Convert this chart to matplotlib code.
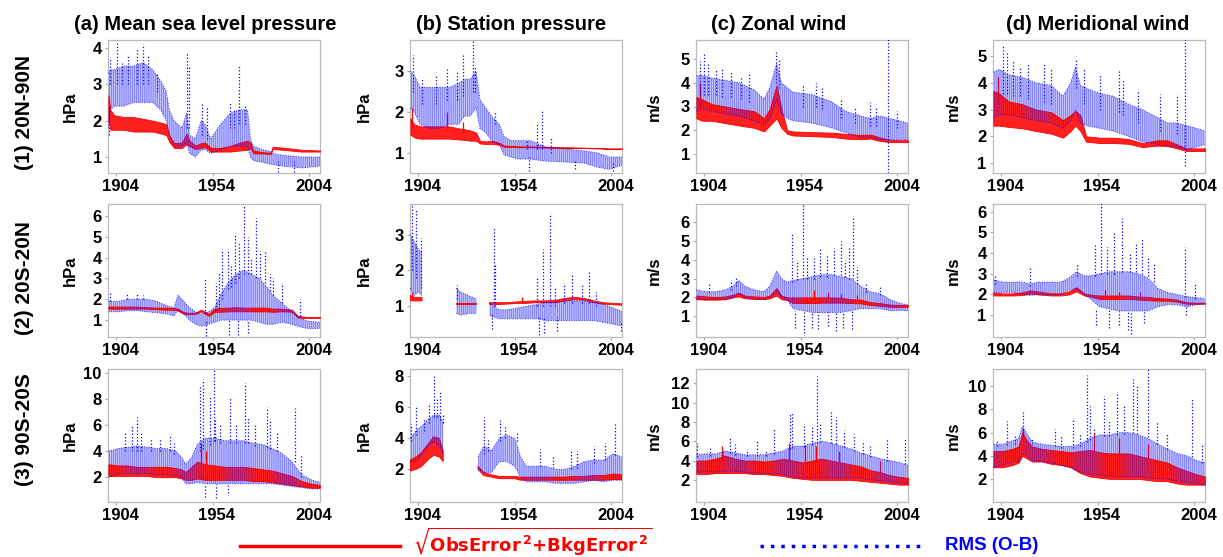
import numpy as np
import matplotlib
matplotlib.use("Agg")
import matplotlib.pyplot as plt
from matplotlib import transforms
from matplotlib.lines import Line2D

plt.rcParams['font.family'] = ['Liberation Sans', 'DejaVu Sans']
plt.rcParams['font.weight'] = 'bold'
plt.rcParams['hatch.linewidth'] = 0.45
plt.rcParams['hatch.color'] = 'blue'

nan = float('nan')

titles = ['(a) Mean sea level pressure', '(b) Station pressure', '(c) Zonal wind', '(d) Meridional wind']
regions = ['(1) 20N-90N', '(2) 20S-20N', '(3) 90S-20S']
units = ['hPa', 'hPa', 'm/s', 'm/s']
xticks = [1904, 1954, 2004]

# ---------------- row 1 : 20N-90N ----------------
a1_yr = [1900, 1901, 1903, 1908, 1913, 1918, 1923, 1927, 1930, 1931.5,
         1934, 1938, 1940.5, 1942, 1945, 1948, 1950, 1953, 1958, 1963,
         1968, 1972, 1973.5, 1975, 1980, 1984, 1985, 1990, 2000, 2009.5]
a1_blo = [1.8, 2.3, 2.4, 2.4, 2.5, 2.5, 2.5, 2.3, 2.0, 1.6,
          1.3, 1.3, 1.4, 1.1, 1.0, 1.2, 1.2, 1.1, 1.2, 1.3,
          1.3, 1.3, 1.0, 0.9, 0.85, 0.8, 0.8, 0.75, 0.7, 0.75]
a1_bhi = [3.3, 3.4, 3.4, 3.5, 3.5, 3.6, 3.4, 3.1, 2.8, 2.3,
          2.0, 1.8, 2.2, 1.6, 1.5, 2.0, 1.9, 1.5, 1.9, 2.2,
          2.3, 2.3, 1.5, 1.3, 1.2, 1.15, 1.1, 1.05, 1.0, 1.0]
a1_rlo = [2.0, 1.75, 1.75, 1.75, 1.7, 1.7, 1.7, 1.65, 1.6, 1.42,
          1.25, 1.25, 1.35, 1.3, 1.22, 1.25, 1.28, 1.15, 1.15, 1.15,
          1.18, 1.2, 1.25, 1.1, 1.1, 1.08, 1.22, 1.2, 1.15, 1.15]
a1_rhi = [2.7, 2.3, 2.15, 2.1, 2.1, 2.05, 2.0, 1.95, 1.9, 1.6,
          1.38, 1.4, 1.65, 1.45, 1.32, 1.38, 1.4, 1.25, 1.25, 1.3,
          1.4, 1.45, 1.4, 1.18, 1.13, 1.12, 1.28, 1.26, 1.2, 1.18]
a1_sx = [1900.3, 1901, 1904.3, 1907, 1910, 1914.7, 1918.1, 1920.7, 1925, 1940.8,
         1941.5, 1948.3, 1951, 1962.9, 1965, 1967.6, 1970.7, 1988, 1996]
a1_slo = [1.6, 3.0, 3.0, 3.0, 3.0, 3.0, 3.0, 3.0, 2.8, 1.8,
          1.8, 1.6, 1.5, 1.8, 1.8, 1.9, 1.9, 0.6, 0.6]
a1_shi = [2.4, 3.7, 4.2, 3.6, 3.8, 4.0, 4.1, 3.8, 3.3, 3.9,
          3.5, 2.5, 2.4, 2.5, 2.3, 3.5, 2.4, 0.9, 0.9]
a1_tx, a1_tlo, a1_thi = [], [], []

b1_yr = [1900, 1902, 1905, 1910, 1915, 1920, 1925, 1928, 1931, 1934,
         1936, 1939, 1942, 1946, 1948.5, 1952, 1956, 1962, 1970, 1980,
         1990, 1997, 2003, 2009.5]
b1_blo = [2.1, 2.0, 1.7, 1.6, 1.6, 1.7, 1.7, 1.9, 1.9, 2.1,
          1.6, 1.5, 1.3, 1.2, 0.95, 0.9, 0.85, 0.85, 0.8, 0.78,
          0.75, 0.65, 0.6, 0.7]
b1_bhi = [3.0, 2.9, 2.6, 2.6, 2.6, 2.6, 2.7, 2.8, 2.8, 3.0,
          2.3, 2.1, 1.9, 1.7, 1.4, 1.3, 1.3, 1.3, 1.15, 1.1,
          1.05, 1.0, 0.9, 0.9]
b1_rlo = [1.45, 1.38, 1.35, 1.35, 1.35, 1.35, 1.33, 1.32, 1.3, 1.3,
          1.23, 1.22, 1.22, 1.2, 1.15, 1.15, 1.14, 1.14, 1.13, 1.12,
          1.12, 1.11, 1.1, 1.1]
b1_rhi = [1.85, 1.7, 1.65, 1.65, 1.65, 1.65, 1.6, 1.58, 1.55, 1.5,
          1.3, 1.28, 1.3, 1.25, 1.18, 1.17, 1.16, 1.16, 1.15, 1.14,
          1.13, 1.12, 1.11, 1.11]
b1_sx = [1901.4, 1906, 1913, 1919, 1924, 1927, 1932.5, 1933.3, 1944, 1960.4, 1961.5, 1965.6, 1968.2, 1973, 1985, 2005]
b1_slo = [2.5, 2.2, 2.2, 2.3, 2.3, 2.4, 2.5, 2.5, 1.7, 1.1, 0.55, 1.1, 1.1, 1.0, 0.6, 0.55]
b1_shi = [3.4, 2.8, 2.9, 3.1, 3.0, 3.4, 3.8, 3.1, 2.0, 1.35, 0.9, 1.7, 2.05, 1.4, 0.85, 0.8]
b1_tx, b1_tlo, b1_thi = [1901, 1919, 1927], [1.6, 1.55, 1.5], [2.1, 2.0, 1.75]

c1_yr = [1900, 1903, 1908, 1915, 1922, 1930, 1935, 1938, 1941.5, 1944,
         1947, 1950, 1960, 1970, 1977, 1985, 1990, 1995, 2000, 2005,
         2009.5]
c1_blo = [2.8, 2.9, 2.8, 2.7, 2.6, 2.4, 2.2, 2.5, 3.3, 2.7,
          2.5, 2.4, 2.3, 2.1, 1.9, 1.7, 1.7, 1.6, 1.6, 1.6,
          1.6]
c1_bhi = [4.3, 4.3, 4.2, 4.1, 4.0, 3.7, 3.3, 3.8, 4.8, 4.0,
          3.8, 3.6, 3.5, 3.2, 2.8, 2.6, 2.5, 2.6, 2.5, 2.4,
          2.3]
c1_rlo = [2.5, 2.4, 2.4, 2.3, 2.2, 2.1, 1.95, 2.2, 2.5, 2.1,
          1.85, 1.78, 1.75, 1.72, 1.65, 1.62, 1.65, 1.55, 1.5, 1.5,
          1.5]
c1_rhi = [3.4, 3.3, 3.1, 3.0, 2.9, 2.8, 2.5, 2.9, 3.9, 2.9,
          2.0, 1.95, 1.92, 1.9, 1.85, 1.8, 1.82, 1.7, 1.6, 1.58,
          1.58]
c1_sx = [1902, 1903.8, 1906, 1910, 1913, 1918, 1923, 1927, 1941.2, 1942.5, 1955, 1962, 1965, 1975, 1982, 1990, 1993, 1999.3, 2004]
c1_slo = [3.5, 3.5, 3.5, 3.5, 3.4, 3.4, 3.3, 3.2, 4.0, 3.8, 3.0, 3.0, 2.9, 2.5, 2.3, 2.2, 2.2, 0.2, 2.1]
c1_shi = [4.9, 5.2, 4.8, 4.6, 4.6, 4.5, 4.3, 4.4, 5.3, 5.0, 3.9, 4.0, 3.8, 3.3, 3.0, 3.2, 3.0, 7.0, 2.8]
c1_tx, c1_tlo, c1_thi = [1902], [3.0], [4.0]

d1_yr = [1900, 1903, 1908, 1915, 1922, 1930, 1936, 1940, 1942.5, 1945,
         1948, 1955, 1962, 1970, 1977, 1985, 1990, 1995, 2000, 2005,
         2009.5]
d1_blo = [2.7, 2.8, 2.8, 2.7, 2.6, 2.5, 2.3, 2.6, 3.0, 2.5,
          2.4, 2.3, 2.2, 2.0, 1.8, 1.7, 1.6, 1.6, 1.5, 1.6,
          1.7]
d1_bhi = [4.4, 4.5, 4.3, 4.2, 4.0, 3.9, 3.5, 4.0, 4.6, 3.9,
          3.8, 3.6, 3.5, 3.2, 3.0, 2.7, 2.5, 2.5, 2.4, 2.3,
          2.2]
d1_rlo = [2.4, 2.4, 2.35, 2.3, 2.2, 2.1, 1.95, 2.2, 2.4, 2.2,
          1.8, 1.75, 1.75, 1.72, 1.6, 1.65, 1.65, 1.55, 1.45, 1.45,
          1.45]
d1_rhi = [3.7, 3.6, 3.3, 3.2, 3.0, 2.9, 2.6, 2.8, 2.95, 2.8,
          2.0, 1.95, 1.95, 1.9, 1.75, 1.85, 1.85, 1.7, 1.55, 1.55,
          1.55]
d1_sx = [1904.8, 1906.9, 1910, 1914, 1918, 1926, 1930, 1942.7, 1947, 1955, 1964.8, 1967, 1975, 1986, 1995, 1999.3]
d1_slo = [3.6, 3.6, 3.5, 3.5, 3.4, 3.3, 3.2, 3.8, 3.2, 3.0, 2.9, 2.8, 2.5, 2.2, 2.1, 0.9]
d1_shi = [5.4, 5.2, 4.8, 4.6, 4.7, 4.7, 4.5, 4.9, 4.5, 4.3, 4.5, 4.1, 3.7, 3.6, 3.6, 5.8]
d1_tx, d1_tlo, d1_thi = [1902.6], [3.2], [4.2]

# ---------------- row 2 : 20S-20N ----------------
a2_yr = [1900, 1905, 1910, 1915, 1920, 1925, 1930, 1934, 1936, 1939,
         1942, 1945, 1948, 1952, 1955, 1958, 1962, 1966, 1970, 1974,
         1978, 1982, 1985, 1990, 1995, 1998, 2003, 2009.5]
a2_blo = [1.4, 1.4, 1.45, 1.45, 1.4, 1.35, 1.3, 1.2, 1.5, 1.3,
          1.0, 0.8, 0.7, 0.8, 0.9, 1.0, 1.0, 1.0, 1.0, 1.0,
          0.9, 0.8, 0.8, 0.9, 0.8, 0.7, 0.6, 0.6]
a2_bhi = [1.9, 1.9, 2.0, 2.0, 2.0, 1.9, 1.7, 1.6, 2.2, 1.9,
          1.6, 1.4, 1.3, 1.4, 1.6, 2.2, 2.8, 3.2, 3.4, 3.2,
          3.0, 2.6, 2.2, 1.8, 1.4, 1.2, 0.95, 0.9]
a2_rlo = [1.55, 1.55, 1.55, 1.55, 1.55, 1.52, 1.5, 1.5, 1.45, 1.3,
          1.28, 1.3, 1.42, 1.2, 1.4, 1.4, 1.42, 1.42, 1.42, 1.42,
          1.42, 1.42, 1.4, 1.42, 1.4, 1.12, 1.1, 1.1]
a2_rhi = [1.65, 1.65, 1.65, 1.65, 1.62, 1.6, 1.6, 1.58, 1.55, 1.38,
          1.35, 1.36, 1.5, 1.3, 1.55, 1.58, 1.6, 1.62, 1.6, 1.6,
          1.6, 1.6, 1.55, 1.55, 1.5, 1.2, 1.15, 1.15]
a2_sx = [1900.8, 1909.5, 1914.7, 1918, 1950, 1950.3, 1955.5, 1957, 1958.6, 1962,
         1962.5, 1963.5, 1965.5, 1967, 1967.8, 1970.3, 1972, 1972.4, 1974, 1976.4,
         1978.4, 1981, 1983.6, 1985.3, 1989.7, 1999]
a2_slo = [1.9, 2.0, 2.0, 2.0, 1.3, 0.25, 1.5, 1.6, 2.0, 2.5,
          0.3, 2.6, 2.8, 0.3, 3.0, 3.2, 0.4, 3.2, 3.2, 3.0,
          3.0, 2.8, 2.4, 2.2, 1.8, 1.2]
a2_shi = [2.4, 2.3, 2.3, 2.2, 3.0, 1.0, 2.8, 3.3, 4.4, 4.4,
          1.0, 3.6, 5.2, 1.0, 4.7, 6.5, 1.0, 5.0, 4.0, 5.9,
          4.3, 4.3, 3.2, 3.0, 2.8, 2.0]
a2_tx, a2_tlo, a2_thi = [], [], []

b2_yr = [1900, 1902, 1904, 1906, 1915, 1923.8, 1926, 1930, 1934.2, 1938,
         1941, 1943, 1946, 1950, 1955, 1960, 1965, 1970, 1975, 1980,
         1985, 1990, 1995, 2000, 2005, 2009.5]
b2_blo = [1.5, 1.3, 1.4, 1.3, nan, 0.8, 0.75, 0.8, 0.8, nan,
          0.75, 0.7, 0.65, 0.65, 0.65, 0.65, 0.65, 0.6, 0.6, 0.6,
          0.6, 0.6, 0.6, 0.55, 0.5, 0.45]
b2_bhi = [3.0, 2.8, 2.6, 2.5, nan, 1.5, 1.4, 1.3, 1.2, nan,
          1.1, 1.0, 0.9, 0.9, 0.95, 1.0, 1.05, 1.1, 1.1, 1.15,
          1.15, 1.15, 1.1, 1.05, 0.95, 0.85]
b2_rlo = [1.15, 1.15, 1.15, 1.15, nan, 1.05, 1.05, 1.05, 1.05, nan,
          1.05, 1.05, 1.05, 1.06, 1.08, 1.08, 1.1, 1.1, 1.1, 1.15,
          1.18, 1.17, 1.1, 1.06, 1.04, 1.03]
b2_rhi = [1.3, 1.25, 1.25, 1.25, nan, 1.1, 1.1, 1.1, 1.1, nan,
          1.1, 1.1, 1.1, 1.1, 1.12, 1.14, 1.15, 1.15, 1.16, 1.22,
          1.25, 1.22, 1.15, 1.1, 1.08, 1.07]
b2_sx = [1900.9, 1903, 1905.5, 1924, 1942, 1943.2, 1943.8, 1965.6, 1966.5, 1968.6,
         1969, 1972.5, 1975, 1976, 1979.4, 1983.8, 1989, 1992.4, 1996, 2009]
b2_slo = [2.0, 1.8, 1.5, 1.2, 0.35, 1.0, 1.0, 1.0, 0.2, 1.0,
          0.25, 1.0, 1.0, 0.3, 1.1, 1.1, 1.1, 1.1, 1.0, 0.3]
b2_shi = [3.9, 3.7, 2.9, 1.6, 0.8, 3.2, 2.2, 1.8, 0.7, 2.6,
          0.7, 3.6, 1.5, 0.7, 1.6, 1.9, 1.6, 2.0, 1.4, 0.6]
b2_tx, b2_tlo, b2_thi = [1901, 1957.9], [1.25, 1.1], [1.4, 1.25]

c2_yr = [1900, 1905, 1910, 1915, 1919, 1922, 1925, 1930, 1935, 1938,
         1941.5, 1944, 1947, 1950, 1955, 1960, 1965, 1970, 1975, 1980,
         1985, 1990, 1995, 2000, 2005, 2009.5]
c2_blo = [1.9, 1.9, 1.9, 1.9, 2.0, 2.2, 2.0, 1.9, 1.9, 2.0,
          2.3, 2.0, 1.9, 1.4, 1.3, 1.2, 1.2, 1.2, 1.2, 1.3,
          1.4, 1.4, 1.4, 1.3, 1.3, 1.3]
c2_bhi = [2.4, 2.3, 2.3, 2.4, 2.6, 2.9, 2.6, 2.4, 2.3, 2.6,
          3.4, 3.0, 2.8, 2.9, 3.0, 3.1, 3.2, 3.2, 3.1, 3.0,
          2.6, 2.3, 2.2, 1.9, 1.7, 1.6]
c2_rlo = [1.9, 1.88, 1.88, 1.9, 2.0, 2.05, 1.95, 1.92, 1.9, 1.95,
          2.1, 1.9, 1.85, 1.7, 1.7, 1.7, 1.72, 1.72, 1.72, 1.7,
          1.68, 1.6, 1.55, 1.5, 1.5, 1.5]
c2_rhi = [2.1, 2.05, 2.02, 2.05, 2.15, 2.25, 2.1, 2.05, 2.02, 2.1,
          2.5, 2.1, 2.0, 2.0, 2.0, 2.0, 2.0, 2.0, 1.98, 1.9,
          1.88, 1.75, 1.7, 1.62, 1.6, 1.6]
c2_sx = [1906.4, 1918, 1920.5, 1949.6, 1951, 1952.2, 1955.3, 1955.8, 1957.3, 1960,
         1960.8, 1963, 1964.2, 1967.7, 1968, 1971.2, 1972, 1974.6, 1976, 1977,
         1978.9, 1980.5, 1981, 1983, 1988, 1995]
c2_slo = [2.3, 2.4, 2.6, 2.8, 0.4, 2.9, 3.0, 0.1, 3.0, 0.4,
          3.0, 0.3, 3.1, 3.1, 0.5, 3.2, 0.2, 3.2, 0.4, 3.1,
          3.0, 0.3, 3.0, 2.7, 2.3, 2.1]
c2_shi = [2.8, 2.9, 3.1, 5.4, 1.3, 4.0, 7.5, 1.2, 4.2, 1.2,
          4.1, 1.2, 4.6, 4.3, 1.2, 4.6, 1.2, 5.0, 1.2, 4.0,
          4.7, 1.3, 6.2, 3.6, 2.7, 2.6]
c2_tx, c2_tlo, c2_thi = [1961, 1968, 1975, 1983], [1.95, 1.95, 1.95, 1.9], [2.4, 2.3, 2.2, 2.1]

d2_yr = [1900, 1905, 1910, 1915, 1919, 1923, 1930, 1935, 1939, 1943,
         1947, 1950, 1955, 1960, 1965, 1970, 1975, 1980, 1985, 1990,
         1995, 2000, 2005, 2009.5]
d2_blo = [2.1, 2.1, 2.1, 2.0, 1.95, 2.0, 2.0, 2.0, 2.2, 2.3,
          2.0, 1.8, 1.4, 1.3, 1.2, 1.2, 1.2, 1.2, 1.4, 1.5,
          1.5, 1.4, 1.5, 1.55]
d2_bhi = [2.7, 2.6, 2.6, 2.6, 2.5, 2.6, 2.6, 2.6, 2.8, 3.1,
          2.9, 2.9, 3.0, 3.1, 3.1, 3.1, 3.0, 2.8, 2.3, 2.1,
          2.0, 1.9, 1.85, 1.8]
d2_rlo = [1.95, 1.95, 1.95, 1.97, 2.05, 2.0, 1.95, 1.95, 2.0, 2.15,
          1.95, 1.9, 1.78, 1.78, 1.78, 1.78, 1.75, 1.72, 1.7, 1.7,
          1.65, 1.55, 1.55, 1.55]
d2_rhi = [2.1, 2.05, 2.05, 2.1, 2.2, 2.15, 2.05, 2.05, 2.15, 2.35,
          2.05, 2.0, 1.95, 1.95, 1.95, 1.95, 1.9, 1.88, 1.82, 1.8,
          1.75, 1.62, 1.6, 1.6]
d2_sx = [1901, 1919, 1943.2, 1952.7, 1953, 1955.8, 1958.7, 1960, 1962.2, 1965,
         1966.8, 1969.5, 1970.8, 1971, 1973.7, 1976.9, 1978, 1979.8, 1982.9, 1999,
         1999.5, 2004.5]
d2_slo = [2.5, 2.4, 2.9, 2.9, 0.5, 3.0, 3.0, 0.4, 3.0, 0.5,
          3.1, 0.3, 3.1, 0.1, 3.1, 3.0, 0.6, 2.9, 2.6, 1.9,
          1.0, 1.8]
d2_shi = [2.9, 3.4, 3.5, 4.5, 1.3, 6.5, 4.3, 1.3, 5.0, 1.2,
          5.7, 1.2, 4.0, 1.2, 4.5, 4.7, 1.2, 3.8, 3.5, 4.3,
          1.5, 2.5]
d2_tx, d2_tlo, d2_thi = [1958, 1965, 1976], [1.95, 1.95, 1.9], [2.2, 2.1, 2.1]

# ---------------- row 3 : 90S-20S ----------------
a3_yr = [1900, 1905, 1910, 1915, 1920, 1925, 1930, 1935, 1938, 1940,
         1943, 1946, 1950, 1955, 1960, 1965, 1970, 1975, 1980, 1985,
         1990, 1995, 2000, 2005, 2009.5]
a3_blo = [2.0, 2.2, 2.3, 2.3, 2.3, 2.2, 2.2, 2.1, 2.0, 1.5,
          1.5, 1.6, 1.5, 1.5, 1.5, 1.5, 1.5, 1.5, 1.5, 1.5,
          1.4, 1.3, 1.2, 1.1, 1.1]
a3_bhi = [4.0, 4.2, 4.3, 4.4, 4.3, 4.2, 4.2, 4.0, 3.5, 3.0,
          3.5, 4.5, 5.0, 5.0, 4.8, 4.8, 4.8, 4.6, 4.5, 4.2,
          3.8, 3.2, 2.2, 1.8, 1.6]
a3_rlo = [2.1, 2.1, 2.1, 2.1, 2.1, 2.0, 2.0, 2.0, 1.9, 1.8,
          1.8, 1.9, 1.8, 1.8, 1.8, 1.8, 1.8, 1.7, 1.7, 1.6,
          1.5, 1.4, 1.3, 1.2, 1.2]
a3_rhi = [3.0, 2.9, 2.9, 2.8, 2.8, 2.8, 2.8, 2.7, 2.6, 2.4,
          2.8, 3.2, 3.0, 2.9, 2.8, 2.8, 2.8, 2.7, 2.6, 2.5,
          2.3, 2.1, 1.7, 1.5, 1.4]
a3_sx = [1908.6, 1912, 1915, 1917, 1922, 1926.7, 1931.9, 1934, 1947.4, 1949.1,
         1950, 1952.6, 1954.8, 1955.2, 1955.5, 1958, 1962, 1963, 1966, 1970.7,
         1972.4, 1976, 1981.9, 1983.6, 1987, 1996.6, 1999.8]
a3_slo = [4.0, 4.0, 4.0, 4.0, 4.0, 4.0, 4.0, 3.8, 4.0, 4.2,
          0.5, 4.5, 4.8, 4.8, 0.4, 4.6, 0.8, 4.6, 4.6, 4.6,
          4.6, 4.4, 4.3, 4.2, 4.0, 3.2, 2.0]
a3_shi = [5.4, 5.9, 6.6, 5.5, 4.9, 5.0, 5.2, 4.6, 9.1, 9.5,
          1.5, 8.2, 10.3, 6.4, 1.5, 6.0, 1.5, 8.1, 6.0, 9.2,
          6.6, 6.0, 7.4, 6.5, 5.5, 7.3, 3.8]
a3_tx, a3_tlo, a3_thi = [1948, 1950.5], [3.0, 3.0], [4.6, 4.0]

b3_yr = [1900, 1903, 1906, 1909, 1912, 1915, 1917, 1926, 1935, 1938,
         1942, 1946, 1950, 1954, 1957, 1960, 1965, 1970, 1975, 1980,
         1985, 1990, 1995, 2000, 2005, 2009.5]
b3_blo = [2.5, 2.5, 3.0, 3.5, 3.8, 3.5, 3.0, nan, 2.0, 1.8,
          1.8, 2.5, 2.5, 2.2, 1.5, 1.2, 1.2, 1.2, 1.1, 1.1,
          1.1, 1.2, 1.3, 1.2, 1.3, 1.3]
b3_bhi = [4.0, 4.5, 4.8, 5.2, 5.5, 5.5, 5.0, nan, 2.8, 3.5,
          3.2, 4.0, 4.2, 4.0, 2.8, 2.2, 2.2, 2.2, 2.0, 2.0,
          2.2, 2.5, 2.6, 2.6, 3.0, 2.8]
b3_rlo = [1.9, 2.0, 2.2, 2.6, 2.9, 2.8, 2.5, nan, 2.0, 1.6,
          1.5, 1.4, 1.4, 1.4, 1.3, 1.3, 1.3, 1.3, 1.3, 1.3,
          1.3, 1.3, 1.3, 1.3, 1.35, 1.35]
b3_rhi = [2.6, 2.8, 3.1, 3.6, 4.1, 4.0, 3.2, nan, 2.2, 1.8,
          1.65, 1.55, 1.55, 1.55, 1.5, 1.5, 1.5, 1.5, 1.5, 1.5,
          1.55, 1.55, 1.6, 1.6, 1.7, 1.65]
b3_sx = [1900.5, 1903, 1906.8, 1909.5, 1912, 1914, 1915.5, 1916.8, 1938.3, 1940,
         1946.6, 1949, 1955, 1967, 1974, 1982.9, 1986.4, 1995, 2000.5, 2005.9]
b3_slo = [3.8, 4.2, 4.5, 5.0, 5.4, 5.4, 5.2, 5.0, 3.0, 3.2,
          3.8, 4.0, 3.8, 2.2, 2.1, 2.0, 2.1, 2.4, 2.6, 2.9]
b3_shi = [4.9, 6.1, 5.3, 6.3, 8.0, 6.5, 7.0, 5.5, 5.4, 4.0,
          5.2, 4.8, 4.5, 3.3, 2.9, 3.3, 3.2, 3.5, 3.7, 5.0]
b3_tx, b3_tlo, b3_thi = [], [], []

c3_yr = [1900, 1905, 1910, 1915, 1920, 1925, 1930, 1935, 1940, 1945,
         1950, 1955, 1960, 1965, 1970, 1975, 1980, 1985, 1990, 1995,
         2000, 2005, 2009.5]
c3_blo = [2.8, 2.8, 2.8, 2.9, 2.9, 2.8, 2.7, 2.7, 2.6, 2.6,
          2.3, 2.2, 2.2, 2.2, 2.2, 2.2, 2.2, 2.2, 2.0, 1.9,
          1.8, 1.7, 1.6]
c3_bhi = [4.6, 4.7, 4.7, 5.0, 4.8, 4.6, 4.6, 4.6, 4.8, 5.0,
          5.5, 5.5, 5.8, 6.0, 5.8, 5.5, 5.2, 4.8, 4.5, 4.2,
          4.0, 3.8, 3.5]
c3_rlo = [2.6, 2.6, 2.7, 2.7, 2.7, 2.7, 2.6, 2.6, 2.5, 2.4,
          2.2, 2.1, 2.0, 2.0, 2.0, 2.0, 2.0, 1.9, 1.8, 1.7,
          1.6, 1.5, 1.5]
c3_rhi = [4.0, 4.0, 4.2, 4.5, 4.2, 4.0, 4.0, 3.9, 4.0, 4.2,
          4.0, 3.8, 4.0, 4.2, 4.0, 3.8, 3.6, 3.4, 3.0, 2.8,
          2.5, 2.3, 2.2]
c3_sx = [1900.3, 1907.3, 1914, 1917.6, 1920.2, 1926, 1931.5, 1936, 1940.2, 1948.4,
         1949.6, 1955.6, 1959.9, 1962.2, 1964, 1969.8, 1972, 1976.3, 1981.5, 1986,
         1990, 1998.8, 2007.8]
c3_slo = [4.4, 4.5, 4.5, 4.8, 4.6, 4.5, 4.5, 4.5, 4.7, 5.2,
          5.3, 5.4, 5.6, 5.8, 5.9, 5.8, 5.7, 5.4, 5.0, 4.7,
          4.4, 4.0, 3.6]
c3_shi = [5.8, 5.5, 5.0, 6.3, 5.7, 5.2, 6.0, 5.0, 7.4, 8.8,
          9.0, 7.6, 7.5, 12.8, 8.0, 9.2, 8.5, 7.2, 6.8, 6.0,
          5.5, 6.2, 6.3]
c3_tx = [1913, 1948, 1956, 1962, 1974, 1995]
c3_tlo = [4.0, 3.9, 3.7, 3.9, 3.9, 2.7]
c3_thi = [5.5, 5.8, 5.6, 5.5, 5.0, 4.0]

d3_yr = [1900, 1905, 1910, 1913, 1915, 1917, 1920, 1925, 1930, 1935,
         1940, 1945, 1950, 1955, 1960, 1965, 1970, 1975, 1980, 1985,
         1990, 1995, 2000, 2005, 2009.5]
d3_blo = [3.0, 3.2, 3.5, 3.5, 4.2, 4.0, 3.6, 3.5, 3.4, 3.2,
          3.0, 2.6, 2.4, 2.3, 2.2, 2.2, 2.2, 2.2, 2.1, 2.0,
          2.0, 1.8, 1.7, 1.6, 1.5]
d3_bhi = [5.0, 5.0, 5.3, 5.5, 6.5, 6.0, 5.2, 5.0, 4.9, 4.8,
          4.8, 5.0, 5.5, 5.8, 5.8, 6.0, 6.0, 5.8, 5.5, 5.0,
          4.6, 4.2, 4.0, 3.6, 3.4]
d3_rlo = [3.0, 3.0, 3.2, 3.4, 4.0, 3.8, 3.5, 3.5, 3.3, 3.2,
          3.0, 2.5, 2.2, 2.1, 2.0, 2.0, 2.0, 2.0, 1.9, 1.8,
          1.8, 1.6, 1.5, 1.5, 1.5]
d3_rhi = [4.4, 4.4, 4.6, 4.8, 6.0, 5.4, 4.8, 4.6, 4.5, 4.4,
          4.3, 4.4, 4.5, 4.3, 4.2, 4.2, 4.2, 4.0, 3.8, 3.6,
          3.4, 3.0, 2.7, 2.4, 2.2]
d3_sx = [1902, 1906.9, 1911, 1915.2, 1920, 1932, 1935, 1941, 1945, 1948.4,
         1950, 1952, 1957, 1960, 1963.9, 1967.4, 1972.5, 1974.2, 1979.8, 1984.6,
         1990, 2002.8, 2008]
d3_slo = [4.8, 4.9, 5.0, 6.0, 5.0, 4.8, 4.7, 4.7, 4.8, 5.2,
          5.4, 5.6, 5.7, 5.7, 5.8, 5.9, 6.0, 5.9, 5.6, 5.0,
          4.6, 3.9, 3.4]
d3_shi = [5.3, 7.0, 5.8, 7.8, 5.5, 6.3, 5.7, 7.3, 6.0, 11.0,
          8.3, 6.5, 9.2, 7.0, 9.3, 8.5, 10.6, 10.0, 12.5, 6.9,
          6.0, 8.9, 5.0]
d3_tx, d3_tlo, d3_thi = [1915.2, 1952, 1965, 1980], [5.5, 4.4, 4.2, 3.8], [6.4, 6.0, 5.5, 5.0]

ylims = [[(0.56, 4.22), (0.51, 3.76), (0.2, 5.8), (0.63, 5.6)],
         [(0.19, 6.57), (0.14, 3.86), (-0.1, 6.95), (-0.06, 6.38)],
         [(0.1, 10.3), (-0.1, 8.46), (-0.3, 13.5), (0.0, 11.5)]]
yticks = [[[1, 2, 3, 4], [1, 2, 3], [1, 2, 3, 4, 5], [1, 2, 3, 4, 5]],
          [[1, 2, 3, 4, 5, 6], [1, 2, 3], [1, 2, 3, 4, 5, 6], [1, 2, 3, 4, 5, 6]],
          [[2, 4, 6, 8, 10], [2, 4, 6, 8], [2, 4, 6, 8, 10, 12], [2, 4, 6, 8, 10]]]

panels = [
    [(a1_yr, a1_blo, a1_bhi, a1_rlo, a1_rhi, a1_sx, a1_slo, a1_shi, a1_tx, a1_tlo, a1_thi),
     (b1_yr, b1_blo, b1_bhi, b1_rlo, b1_rhi, b1_sx, b1_slo, b1_shi, b1_tx, b1_tlo, b1_thi),
     (c1_yr, c1_blo, c1_bhi, c1_rlo, c1_rhi, c1_sx, c1_slo, c1_shi, c1_tx, c1_tlo, c1_thi),
     (d1_yr, d1_blo, d1_bhi, d1_rlo, d1_rhi, d1_sx, d1_slo, d1_shi, d1_tx, d1_tlo, d1_thi)],
    [(a2_yr, a2_blo, a2_bhi, a2_rlo, a2_rhi, a2_sx, a2_slo, a2_shi, a2_tx, a2_tlo, a2_thi),
     (b2_yr, b2_blo, b2_bhi, b2_rlo, b2_rhi, b2_sx, b2_slo, b2_shi, b2_tx, b2_tlo, b2_thi),
     (c2_yr, c2_blo, c2_bhi, c2_rlo, c2_rhi, c2_sx, c2_slo, c2_shi, c2_tx, c2_tlo, c2_thi),
     (d2_yr, d2_blo, d2_bhi, d2_rlo, d2_rhi, d2_sx, d2_slo, d2_shi, d2_tx, d2_tlo, d2_thi)],
    [(a3_yr, a3_blo, a3_bhi, a3_rlo, a3_rhi, a3_sx, a3_slo, a3_shi, a3_tx, a3_tlo, a3_thi),
     (b3_yr, b3_blo, b3_bhi, b3_rlo, b3_rhi, b3_sx, b3_slo, b3_shi, b3_tx, b3_tlo, b3_thi),
     (c3_yr, c3_blo, c3_bhi, c3_rlo, c3_rhi, c3_sx, c3_slo, c3_shi, c3_tx, c3_tlo, c3_thi),
     (d3_yr, d3_blo, d3_bhi, d3_rlo, d3_rhi, d3_sx, d3_slo, d3_shi, d3_tx, d3_tlo, d3_thi)],
]

W, H = 1223, 557
fig = plt.figure(figsize=(W / 100, H / 100), dpi=100)

col_left = [108, 410, 696, 993]
row_top = [40, 204, 369]
ax_w, ax_h = 212, 133
ylab_x = [-0.14, -0.18, -0.16, -0.15]
row_mid = [112, 278, 430]
title_x = [205, 511, 779, 1098]

blue = '#0000ff'
red = '#ff0000'


def draw(ax, yr, blo, bhi, rlo, rhi, sx, slo, shi, tx, tlo, thi):
    yr = np.array(yr, float)
    # light fill of the RMS band, then red band, then the dotted-looking blue texture over both
    ax.fill_between(yr, blo, bhi, facecolor='#c0c0ff', linewidth=0, zorder=2)
    ax.fill_between(yr, rlo, rhi, facecolor='#ff2020', edgecolor=red, linewidth=0.6, zorder=3)
    ax.fill_between(yr, blo, bhi, facecolor='none', edgecolor=blue, hatch='||||||||',
                    linewidth=0, alpha=0.5, zorder=3.5)
    ax.plot(yr, bhi, color=blue, ls=':', lw=0.7, alpha=0.8, zorder=3.6)
    ax.plot(yr, blo, color=blue, ls=':', lw=0.7, alpha=0.8, zorder=3.6)
    if tx:
        ax.vlines(tx, tlo, thi, colors=red, lw=0.9, zorder=3.4)
    ax.vlines(sx, slo, shi, colors=blue, linestyles=':', lw=0.9, zorder=4)


for r in range(3):
    for c in range(4):
        ax = fig.add_axes([col_left[c] / W, 1 - (row_top[r] + ax_h) / H, ax_w / W, ax_h / H])
        draw(ax, *panels[r][c])
        ax.set_xlim(1899.8, 2009.5)
        ax.set_ylim(*ylims[r][c])
        ax.set_xticks(xticks)
        ax.set_yticks(yticks[r][c])
        ax.tick_params(length=2.5, width=0.8, color='#aaaaaa', labelsize=12, pad=2)
        for s in ax.spines.values():
            s.set_color('#bbbbbb')
            s.set_linewidth(0.9)
        off = transforms.ScaledTranslation(4 / 100, 0, fig.dpi_scale_trans)
        for lab in ax.get_xticklabels():
            lab.set_transform(lab.get_transform() + off)
        ax.set_ylabel(units[c], fontsize=12, fontweight='bold')
        ax.yaxis.set_label_coords(ylab_x[c], 0.5)

for c in range(4):
    fig.text(title_x[c] / W, 1 - 25 / H, titles[c], ha='center', va='center',
             fontsize=14.5, fontweight='bold')

for r in range(3):
    fig.text(24 / W, 1 - row_mid[r] / H, regions[r], rotation=90, ha='center', va='center',
             fontsize=15, fontweight='bold')

# legend along the bottom
ly = 1 - 546 / H
fig.add_artist(Line2D([240 / W, 400 / W], [ly, ly], color=red, lw=2.5))
fig.text(413 / W, 1 - 542 / H, r'$\sqrt{\mathbf{ObsError}^{\,2}\mathbf{+BkgError}^{\,2}}$',
         color=red, fontsize=13, ha='left', va='center')
fig.add_artist(Line2D([760 / W, 925 / W], [ly, ly], color=blue, lw=2.5, ls=(0, (1, 2))))
fig.text(945 / W, ly, 'RMS (O-B)', color=blue, fontsize=13.5, fontweight='bold',
         ha='left', va='center')

fig.savefig('out.png', dpi=100)
